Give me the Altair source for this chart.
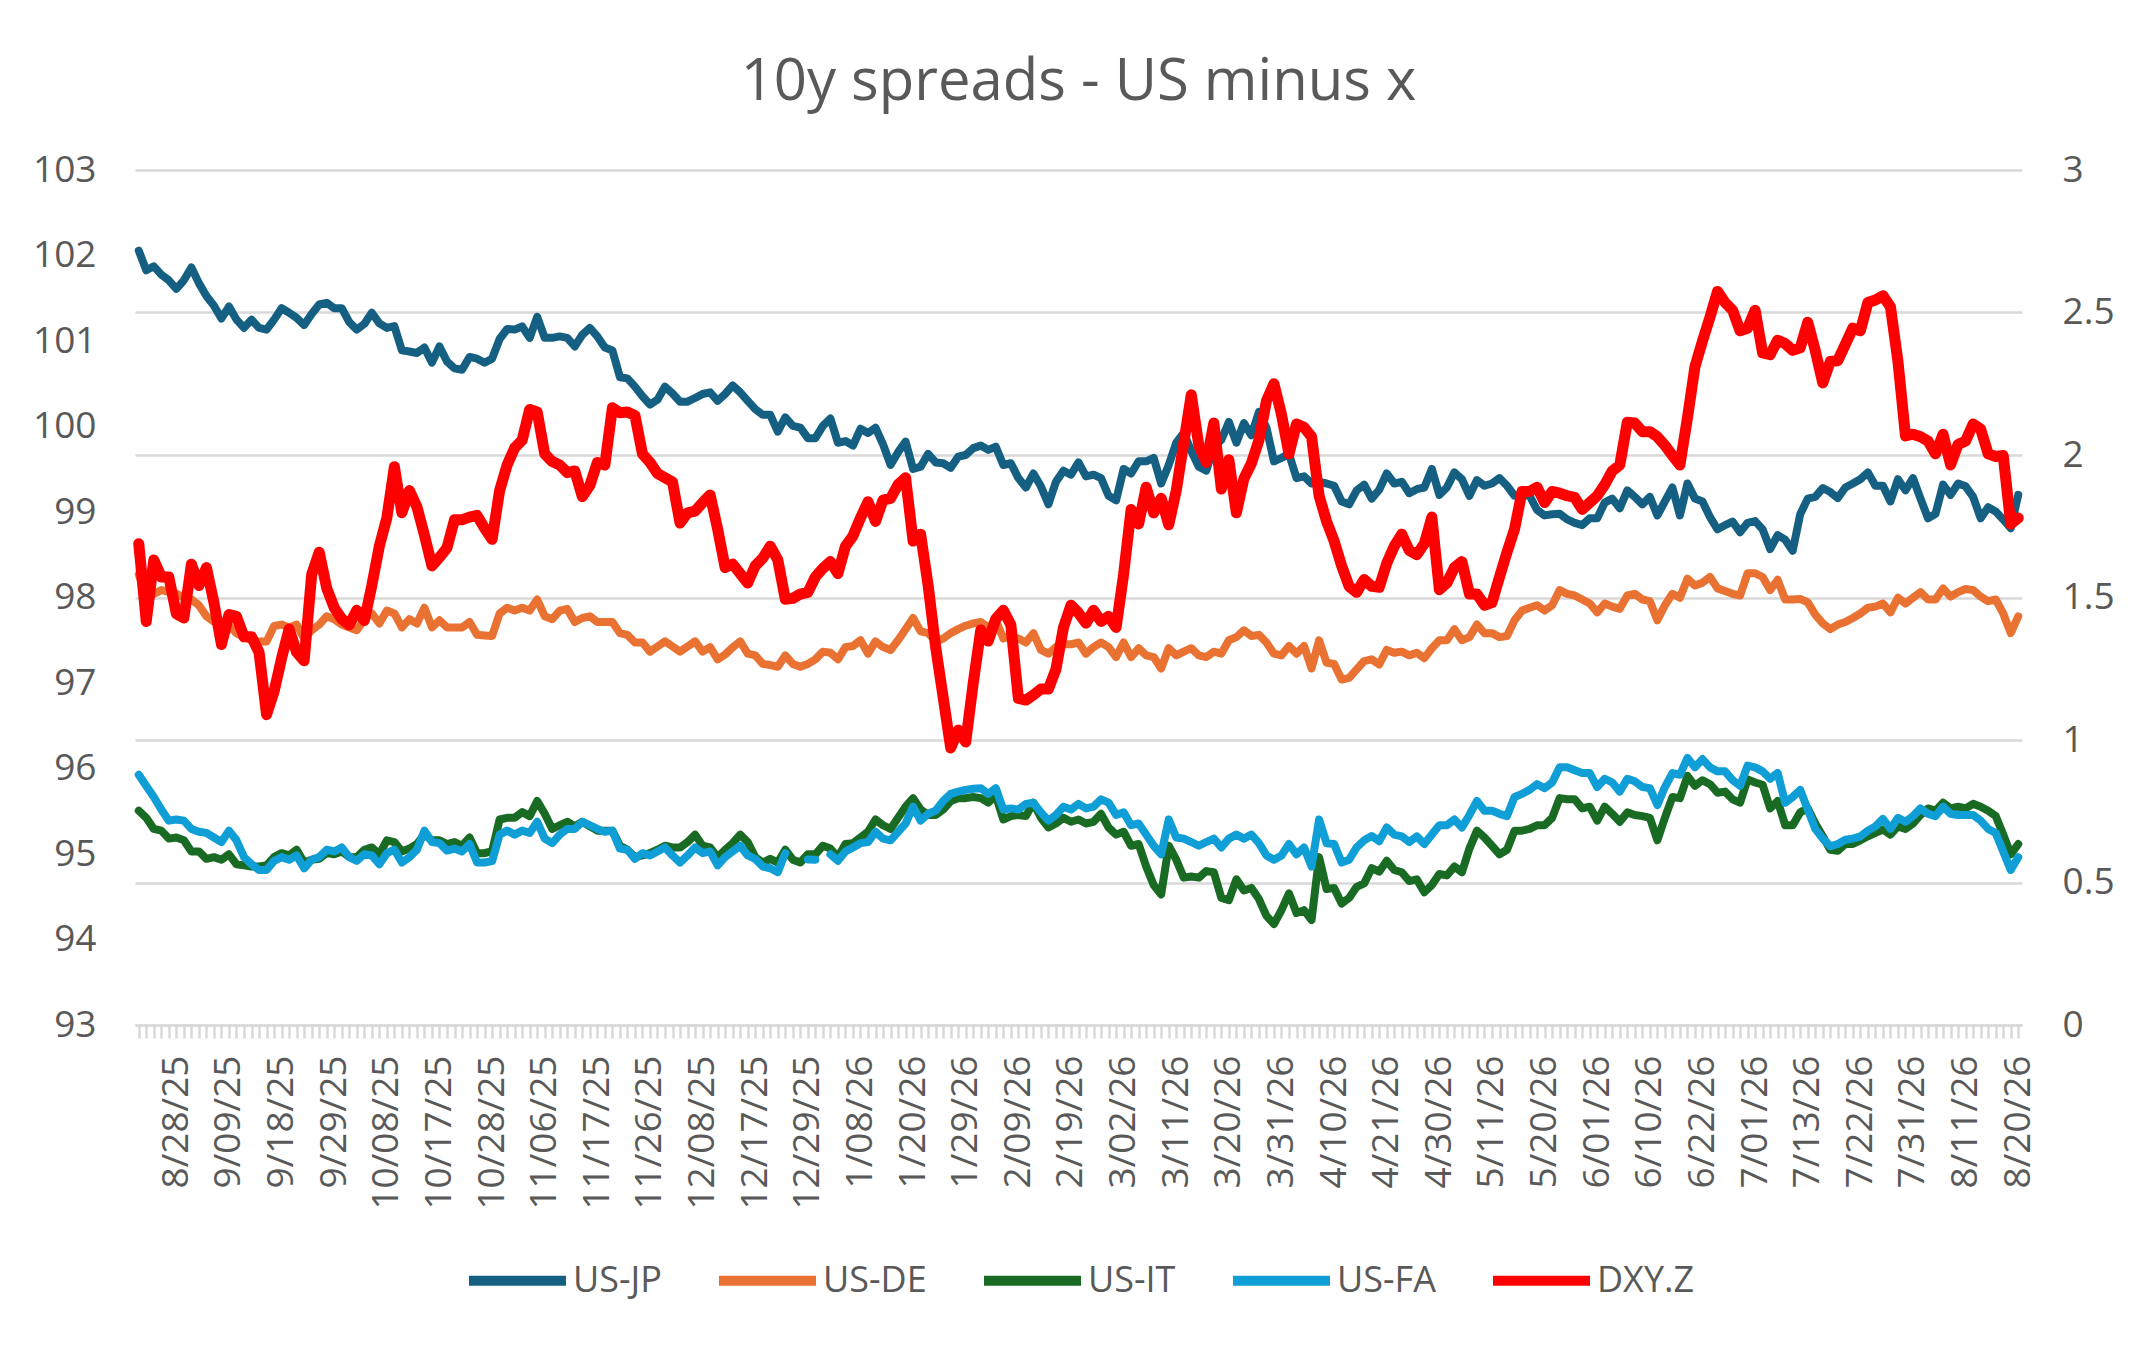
import altair as alt
import pandas as pd

# ---- categories: US business days 8/21/25 .. 8/20/26 ----
HOLIDAYS = ["2025-09-01", "2025-11-27", "2025-12-25", "2026-01-01", "2026-01-19",
            "2026-02-16", "2026-04-03", "2026-05-25", "2026-06-19", "2026-07-03"]
days = [d for d in pd.bdate_range("2025-08-21", "2026-08-20")
        if d.strftime("%Y-%m-%d") not in HOLIDAYS]
dates = [f"{d.month}/{d.day:02d}/{d.year % 100:02d}" for d in days]
label_dates = dates[5::7]

series_names = ["US-JP", "US-DE", "US-IT", "US-FA", "DXY.Z"]
series_colors = ["#156082", "#E97132", "#196B24", "#0F9ED5", "#FF0000"]

# ---- values (right axis: spreads, left axis: DXY) ----
us_jp = [
    2.717, 2.648, 2.662, 2.633, 2.613, 2.583, 2.613, 2.658, 2.603, 2.558,
    2.524, 2.479, 2.521, 2.475, 2.446, 2.475, 2.446, 2.440, 2.475, 2.515,
    2.499, 2.481, 2.456, 2.495, 2.528, 2.534, 2.515, 2.515, 2.466, 2.440,
    2.460, 2.499, 2.462, 2.446, 2.452, 2.367, 2.363, 2.358, 2.377, 2.324,
    2.381, 2.328, 2.304,
    2.299, 2.344, 2.338, 2.324, 2.338, 2.407, 2.442, 2.440, 2.451, 2.411,
    2.485, 2.411, 2.411, 2.416, 2.411, 2.381, 2.422, 2.446, 2.416, 2.377,
    2.367, 2.273, 2.269, 2.240, 2.206, 2.177, 2.194, 2.240, 2.216, 2.187,
    2.187, 2.200, 2.214, 2.220, 2.190, 2.214, 2.244, 2.220, 2.190, 2.161, 2.141,
    2.141, 2.082, 2.132, 2.102, 2.096, 2.059, 2.059, 2.102, 2.128, 2.043,
    2.049, 2.033, 2.092, 2.077, 2.096, 2.037, 1.965, 2.010, 2.047, 1.951,
    1.959, 2.004, 1.974, 1.971, 1.955, 1.994, 2.000, 2.024, 2.033, 2.018,
    2.029, 1.965, 1.971, 1.919, 1.886, 1.935, 1.890, 1.827, 1.906, 1.945, 1.931, 1.974,
    1.925, 1.931, 1.919, 1.857, 1.841, 1.951, 1.935, 1.978, 1.978, 1.990,
    1.900, 1.965, 2.043, 2.077, 2.014, 1.959, 1.945, 2.029, 2.053, 2.116,
    2.043, 2.112, 2.069, 2.151, 2.096, 1.978, 1.990, 2.004, 1.919, 1.925,
    1.900, 1.906, 1.900, 1.892, 1.837, 1.827, 1.876, 1.896, 1.847, 1.878,
    1.935, 1.900, 1.906, 1.866, 1.880, 1.886, 1.951, 1.860, 1.886, 1.939,
    1.915, 1.857, 1.912, 1.892, 1.900, 1.919, 1.892, 1.857, 1.860, 1.857,
    1.807, 1.788, 1.792, 1.794, 1.774, 1.762, 1.754, 1.778, 1.778, 1.833,
    1.847, 1.813, 1.876, 1.853, 1.827, 1.853, 1.788, 1.837, 1.886, 1.788, 1.900, 1.847,
    1.837, 1.782, 1.739, 1.754, 1.766, 1.729, 1.762, 1.768, 1.739, 1.670,
    1.719, 1.703, 1.664, 1.792, 1.847, 1.853, 1.884, 1.870, 1.849, 1.886,
    1.900, 1.915, 1.939, 1.892, 1.892, 1.837, 1.915, 1.876, 1.919, 1.847,
    1.778, 1.794, 1.896, 1.860, 1.900, 1.890, 1.853, 1.778, 1.817, 1.802, 1.774, 1.743, 1.860,
]

us_de = [
    1.581, 1.503, 1.513, 1.526, 1.520, 1.513, 1.500, 1.493, 1.473, 1.434,
    1.415, 1.407, 1.400, 1.375, 1.361, 1.350, 1.346, 1.346, 1.400, 1.405,
    1.395, 1.405, 1.356, 1.385, 1.405, 1.434, 1.424, 1.405, 1.395, 1.385,
    1.424, 1.444, 1.409, 1.454, 1.444, 1.395, 1.424, 1.409, 1.464, 1.395,
    1.420, 1.395, 1.395,
    1.395, 1.414, 1.369, 1.367, 1.365, 1.444, 1.464, 1.454, 1.464, 1.454,
    1.493, 1.434, 1.424, 1.454, 1.460, 1.414, 1.428, 1.434, 1.414, 1.414,
    1.414, 1.375, 1.369, 1.342, 1.342, 1.310, 1.328, 1.346, 1.328, 1.310,
    1.328, 1.346, 1.310, 1.326, 1.283, 1.300, 1.325, 1.346, 1.303, 1.297, 1.267,
    1.263, 1.257, 1.297, 1.267, 1.257, 1.267, 1.283, 1.310, 1.306, 1.283,
    1.326, 1.330, 1.350, 1.303, 1.346, 1.326, 1.316, 1.350, 1.389, 1.428,
    1.381, 1.375, 1.346, 1.356, 1.375, 1.389, 1.401, 1.409, 1.414, 1.395,
    1.420, 1.356, 1.365, 1.356, 1.342, 1.375, 1.316, 1.303, 1.326, 1.336, 1.336, 1.342,
    1.303, 1.326, 1.342, 1.326, 1.291, 1.342, 1.291, 1.322, 1.297, 1.291,
    1.251, 1.322, 1.297, 1.310, 1.322, 1.297, 1.291, 1.310, 1.303, 1.350,
    1.361, 1.385, 1.365, 1.369, 1.342, 1.303, 1.297, 1.330, 1.303, 1.330,
    1.251, 1.350, 1.271, 1.267, 1.212, 1.218, 1.248, 1.277, 1.283, 1.265,
    1.316, 1.306, 1.310, 1.297, 1.306, 1.287, 1.322, 1.350, 1.350, 1.389,
    1.350, 1.361, 1.405, 1.375, 1.375, 1.361, 1.365, 1.420, 1.454, 1.464,
    1.473, 1.454, 1.473, 1.526, 1.513, 1.507, 1.493, 1.479, 1.448, 1.479,
    1.468, 1.460, 1.507, 1.513, 1.493, 1.487, 1.420, 1.473, 1.513, 1.499, 1.566, 1.542,
    1.552, 1.572, 1.532, 1.523, 1.513, 1.507, 1.585, 1.585, 1.572, 1.526,
    1.562, 1.493, 1.493, 1.495, 1.483, 1.440, 1.409, 1.389, 1.405, 1.414,
    1.428, 1.444, 1.464, 1.468, 1.479, 1.448, 1.499, 1.479, 1.499, 1.519,
    1.493, 1.493, 1.532, 1.503, 1.519, 1.530, 1.526, 1.503, 1.487, 1.493, 1.444, 1.375, 1.434,
]

us_it = [
    0.752, 0.727, 0.688, 0.682, 0.654, 0.658, 0.648, 0.609, 0.609, 0.583,
    0.589, 0.580, 0.599, 0.564, 0.560, 0.556, 0.556, 0.560, 0.589, 0.603,
    0.595, 0.615, 0.570, 0.580, 0.583, 0.603, 0.599, 0.609, 0.589, 0.589,
    0.615, 0.623, 0.599, 0.648, 0.642, 0.609, 0.619, 0.635, 0.668, 0.648,
    0.648, 0.635, 0.642,
    0.629, 0.658, 0.603, 0.603, 0.610, 0.721, 0.727, 0.727, 0.747, 0.733,
    0.786, 0.741, 0.688, 0.701, 0.713, 0.697, 0.713, 0.697, 0.682, 0.682,
    0.682, 0.629, 0.615, 0.589, 0.595, 0.603, 0.615, 0.629, 0.623, 0.623,
    0.642, 0.668, 0.629, 0.623, 0.589, 0.615, 0.638, 0.668, 0.642, 0.589, 0.570,
    0.583, 0.570, 0.615, 0.580, 0.570, 0.599, 0.599, 0.629, 0.619, 0.589,
    0.635, 0.638, 0.658, 0.678, 0.721, 0.701, 0.688, 0.727, 0.766, 0.796,
    0.756, 0.737, 0.737, 0.756, 0.786, 0.796, 0.796, 0.800, 0.796, 0.780,
    0.805, 0.721, 0.733, 0.737, 0.733, 0.780, 0.727, 0.693, 0.707, 0.727, 0.713, 0.721,
    0.707, 0.713, 0.741, 0.693, 0.668, 0.678, 0.629, 0.635, 0.556, 0.491,
    0.458, 0.629, 0.580, 0.517, 0.521, 0.517, 0.540, 0.536, 0.446, 0.438,
    0.511, 0.472, 0.481, 0.442, 0.383, 0.354, 0.403, 0.462, 0.393, 0.403,
    0.368, 0.589, 0.477, 0.481, 0.426, 0.446, 0.485, 0.497, 0.550, 0.538,
    0.576, 0.544, 0.536, 0.505, 0.511, 0.466, 0.491, 0.530, 0.525, 0.556,
    0.536, 0.619, 0.682, 0.658, 0.629, 0.599, 0.615, 0.682, 0.682, 0.688,
    0.701, 0.701, 0.727, 0.796, 0.792, 0.792, 0.760, 0.766, 0.717, 0.766,
    0.741, 0.713, 0.746, 0.737, 0.733, 0.727, 0.648, 0.727, 0.800, 0.796, 0.874, 0.839,
    0.859, 0.845, 0.815, 0.819, 0.792, 0.780, 0.862, 0.851, 0.843, 0.760,
    0.786, 0.701, 0.701, 0.746, 0.760, 0.707, 0.662, 0.615, 0.611, 0.635,
    0.635, 0.648, 0.662, 0.674, 0.686, 0.668, 0.697, 0.688, 0.707, 0.737,
    0.760, 0.752, 0.780, 0.760, 0.766, 0.760, 0.776, 0.766, 0.752, 0.733, 0.668, 0.599, 0.635,
]

us_fa = [
    0.878, 0.839, 0.800, 0.756, 0.717, 0.721, 0.717, 0.688, 0.678, 0.674,
    0.658, 0.642, 0.682, 0.648, 0.589, 0.564, 0.544, 0.544, 0.576, 0.589,
    0.580, 0.595, 0.550, 0.580, 0.589, 0.615, 0.609, 0.623, 0.589, 0.576,
    0.599, 0.595, 0.564, 0.603, 0.615, 0.570, 0.589, 0.615, 0.682, 0.642,
    0.638, 0.612, 0.619,
    0.609, 0.635, 0.570, 0.570, 0.575, 0.668, 0.682, 0.668, 0.682, 0.674,
    0.713, 0.654, 0.638, 0.668, 0.688, 0.688, 0.713, 0.701, 0.688, 0.678,
    0.682, 0.619, 0.615, 0.583, 0.603, 0.595, 0.609, 0.623, 0.595, 0.570,
    0.595, 0.623, 0.603, 0.609, 0.560, 0.589, 0.609, 0.629, 0.595, 0.583, 0.556,
    0.550, 0.536, 0.603, None, None, 0.581, 0.580, None, 0.599, 0.576,
    0.609, 0.623, 0.638, 0.642, 0.678, 0.654, 0.648, 0.678, 0.707, 0.766,
    0.717, 0.741, 0.752, 0.786, 0.811, 0.819, 0.825, 0.829, 0.831, 0.811,
    0.831, 0.756, 0.760, 0.756, 0.776, 0.780, 0.746, 0.717, 0.737, 0.766, 0.756, 0.776,
    0.760, 0.766, 0.792, 0.780, 0.737, 0.746, 0.701, 0.707, 0.668, 0.629,
    0.599, 0.721, 0.658, 0.654, 0.642, 0.629, 0.642, 0.654, 0.623, 0.654,
    0.668, 0.654, 0.668, 0.638, 0.595, 0.580, 0.595, 0.635, 0.599, 0.623,
    0.556, 0.721, 0.638, 0.635, 0.570, 0.580, 0.623, 0.648, 0.663, 0.645,
    0.693, 0.668, 0.662, 0.642, 0.662, 0.635, 0.668, 0.701, 0.701, 0.721,
    0.693, 0.737, 0.786, 0.752, 0.752, 0.741, 0.733, 0.800, 0.811, 0.825,
    0.845, 0.831, 0.851, 0.904, 0.904, 0.894, 0.884, 0.884, 0.835, 0.864,
    0.851, 0.819, 0.864, 0.855, 0.835, 0.831, 0.772, 0.835, 0.884, 0.878, 0.937, 0.904,
    0.933, 0.904, 0.890, 0.890, 0.859, 0.839, 0.910, 0.904, 0.890, 0.864,
    0.884, 0.780, 0.800, 0.825, 0.756, 0.688, 0.654, 0.627, 0.635, 0.650,
    0.654, 0.662, 0.682, 0.697, 0.723, 0.688, 0.727, 0.713, 0.733, 0.760,
    0.741, 0.733, 0.766, 0.741, 0.737, 0.737, 0.737, 0.717, 0.688, 0.674, 0.609, 0.544, 0.589,
]

dxy = [
    98.63, 97.72, 98.44, 98.24, 98.24, 97.81, 97.76, 98.39, 98.14, 98.35,
    97.94, 97.45, 97.80, 97.78, 97.54, 97.54, 97.36, 96.63, 96.90, 97.29,
    97.63, 97.36, 97.26, 98.27, 98.53, 98.11, 97.88, 97.75, 97.68, 97.85,
    97.73, 98.14, 98.60, 98.93, 99.53, 98.99, 99.25, 99.06, 98.73, 98.37,
    98.47, 98.58, 98.91,
    98.91, 98.94, 98.96, 98.81, 98.68, 99.25, 99.55, 99.75, 99.84, 100.20,
    100.17, 99.68, 99.59, 99.55, 99.46, 99.48, 99.18, 99.31, 99.58, 99.55,
    100.22, 100.16, 100.17, 100.13, 99.68, 99.58, 99.45, 99.40, 99.35, 98.87,
    98.99, 99.01, 99.11, 99.20, 98.80, 98.35, 98.39, 98.28, 98.17, 98.37, 98.46,
    98.60, 98.44, 97.98, 97.99, 98.04, 98.06, 98.24, 98.34, 98.42, 98.28,
    98.60, 98.72, 98.93, 99.12, 98.89, 99.14, 99.16, 99.32, 99.40, 98.66,
    98.74, 98.14, 97.42, 96.83, 96.24, 96.45, 96.31, 97.00, 97.62, 97.49,
    97.75, 97.85, 97.68, 96.82, 96.80, 96.86, 96.93, 96.93, 97.16, 97.65, 97.91, 97.82,
    97.70, 97.85, 97.72, 97.78, 97.65, 98.27, 99.03, 98.86, 99.29, 98.99,
    99.16, 98.85, 99.25, 99.81, 100.37, 99.78, 99.58, 100.04, 99.27, 99.61,
    98.99, 99.39, 99.57, 99.84, 100.30, 100.50, 100.14, 99.68, 100.03, 99.99,
    99.88, 99.19, 98.89, 98.66, 98.37, 98.13, 98.06, 98.21, 98.13, 98.12,
    98.40, 98.60, 98.74, 98.55, 98.50, 98.63, 98.94, 98.09, 98.17, 98.35,
    98.42, 98.04, 98.04, 97.91, 97.94, 98.24, 98.53, 98.80, 99.24, 99.24,
    99.29, 99.11, 99.24, 99.22, 99.19, 99.17, 99.03, 99.11, 99.19, 99.32,
    99.48, 99.55, 100.05, 100.04, 99.94, 99.94, 99.88, 99.78, 99.66, 99.55, 100.10, 100.70,
    101.00, 101.28, 101.58, 101.45, 101.36, 101.12, 101.15, 101.36, 100.86, 100.84,
    101.01, 100.97, 100.89, 100.92, 101.22, 100.89, 100.51, 100.76, 100.77, 100.96,
    101.15, 101.12, 101.45, 101.48, 101.53, 101.40, 100.76, 99.89, 99.91, 99.88,
    99.83, 99.68, 99.91, 99.55, 99.79, 99.83, 100.03, 99.97, 99.68, 99.65, 99.66, 98.86, 98.93,
]

right_ticks = [0, 0.5, 1, 1.5, 2, 2.5, 3]
left_ticks = [93, 94, 95, 96, 97, 98, 99, 100, 101, 102, 103]

# ---- tables ----
n = len(dates)
idx = list(range(n))
spreads = pd.DataFrame({
    "date": dates * 4,
    "idx": idx * 4,
    "series": [s for s in series_names[:4] for _ in range(n)],
    "value": us_jp + us_de + us_it + us_fa,
})
dxy_df = pd.DataFrame({"date": dates, "idx": idx, "series": "DXY.Z", "value": dxy})

FONT = "Open Sans"
TXT = "#595959"
GRID = "#D9D9D9"

label_list = ",".join(f"'{d}'" for d in label_dates)
x_axis = alt.Axis(
    title=None, labelAngle=270, labelAlign="right", labelBaseline="middle",
    labelExpr=f"indexof([{label_list}], datum.value) >= 0 ? datum.label : ''",
    labelOverlap=False, labelPadding=17, labelFontSize=37, labelFont=FONT,
    labelColor=TXT, ticks=True, tickSize=13, tickColor=GRID, tickWidth=2.5,
    domain=True, domainColor=GRID, domainWidth=2.5, grid=False,
)
x_enc = alt.X("date:O", scale=alt.Scale(type="point", domain=dates, padding=0.5), axis=x_axis)

legend = alt.Legend(
    orient="none", legendX=329, legendY=1057, direction="horizontal", columns=5,
    title=None, symbolType="stroke", symbolSize=9409, symbolStrokeWidth=10,
    labelFontSize=36, labelFont=FONT, labelColor=TXT, labelOffset=2,
    columnPadding=37, padding=0, symbolOpacity=1,
)
color_enc = alt.Color("series:N", scale=alt.Scale(domain=series_names, range=series_colors),
                      legend=legend)

spread_layer = alt.Chart(spreads).mark_line(
    strokeWidth=8, strokeJoin="round", strokeCap="round"
).encode(
    x=x_enc,
    y=alt.Y("value:Q", scale=alt.Scale(domain=[0, 3], nice=False, zero=False),
            axis=alt.Axis(orient="right", title=None, values=right_ticks, format="~g",
                          grid=True, gridColor=GRID, gridWidth=2.5, domain=False, ticks=False,
                          labelPadding=40, labelFontSize=37, labelFont=FONT, labelColor=TXT)),
    color=color_enc,
    order=alt.Order("idx:Q"),
)

dxy_layer = alt.Chart(dxy_df).mark_line(
    strokeWidth=11, strokeJoin="round", strokeCap="round"
).encode(
    x=x_enc,
    y=alt.Y("value:Q", scale=alt.Scale(domain=[93, 103], nice=False, zero=False),
            axis=alt.Axis(orient="left", title=None, values=left_ticks, format="d",
                          grid=False, domain=False, ticks=False,
                          labelPadding=39, labelFontSize=37, labelFont=FONT, labelColor=TXT)),
    color=color_enc,
    order=alt.Order("idx:Q"),
)

chart = alt.layer(spread_layer, dxy_layer).resolve_scale(
    y="independent"
).properties(
    width=1887, height=855,
    title=alt.TitleParams("10y spreads - US minus x", fontSize=58, font=FONT,
                          fontWeight="normal", color=TXT, anchor="middle",
                          offset=55, dy=62, baseline="alphabetic"),
    autosize=alt.AutoSizeParams(type="none"),
    padding={"left": 127, "top": 162, "right": 110, "bottom": 300},
    background="white",
).configure_view(stroke="transparent")

chart.save("out.html", embed_options={"renderer": "svg", "actions": False})
